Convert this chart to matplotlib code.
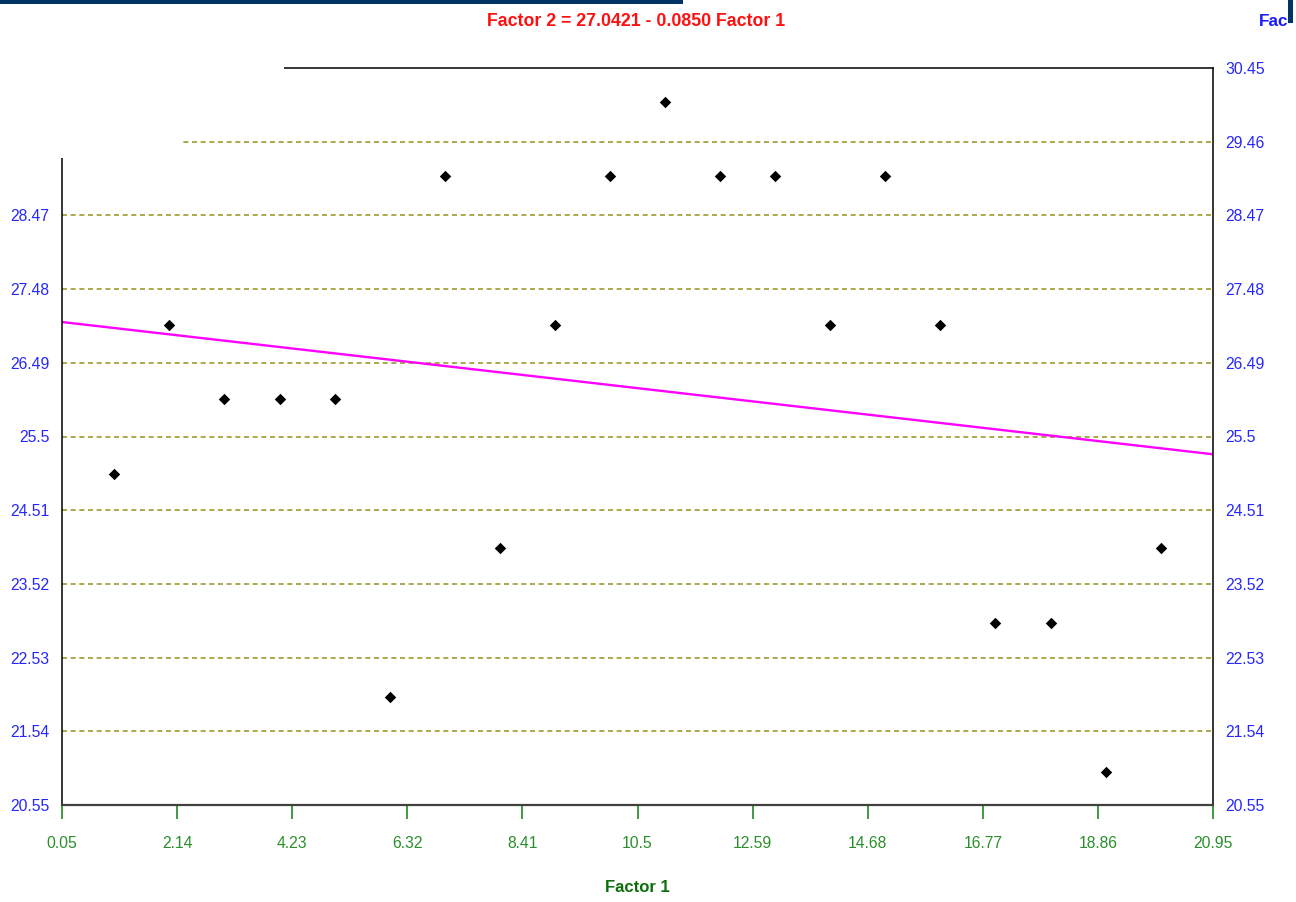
import matplotlib
matplotlib.use("Agg")
import matplotlib.pyplot as plt
from matplotlib.patches import Rectangle
import numpy as np

plt.rcParams['font.family'] = ['Liberation Sans', 'DejaVu Sans']

# ---- data ----
factor1 = [1, 2, 3, 4, 5, 6, 7, 8, 9, 10, 11, 12, 13, 14, 15, 16, 17, 18, 19, 20]
factor2 = [25, 27, 26, 26, 26, 22, 29, 24, 27, 29, 30, 29, 29, 27, 29, 27, 23, 23, 21, 24]
intercept = 27.0421
slope = -0.0850
x_ticks = [0.05, 2.14, 4.23, 6.32, 8.41, 10.5, 12.59, 14.68, 16.77, 18.86, 20.95]
x_tick_labels = ["0.05", "2.14", "4.23", "6.32", "8.41", "10.5", "12.59", "14.68", "16.77", "18.86", "20.95"]
y_ticks = [20.55, 21.54, 22.53, 23.52, 24.51, 25.5, 26.49, 27.48, 28.47, 29.46, 30.45]
y_tick_labels = ["20.55", "21.54", "22.53", "23.52", "24.51", "25.5", "26.49", "27.48", "28.47", "29.46", "30.45"]
title = "Factor 2 = 27.0421 - 0.0850 Factor 1"
x_label = "Factor 1"
y_label = "Factor 2"

W, H = 1296, 902
fig = plt.figure(figsize=(W / 100, H / 100), dpi=100)
fig.patch.set_facecolor('white')

def fx(px):
    return px / W

def fy(py):
    return 1 - py / H

ax_l, ax_r, ax_t, ax_b = 62, 1213, 68, 805
ax = fig.add_axes([fx(ax_l), fy(ax_b), fx(ax_r - ax_l), (ax_b - ax_t) / H])

ax.set_xlim(x_ticks[0], x_ticks[-1])
ax.set_ylim(y_ticks[0], y_ticks[-1])

# gridlines
for yv in y_ticks[1:-1]:
    ax.axhline(yv, color='#9c9c2c', lw=1.2, dashes=(3, 2.2), zorder=1)

# regression line
xr = np.array([x_ticks[0], x_ticks[-1]])
ax.plot(xr, intercept + slope * xr, color='#ff00ff', lw=1.7, zorder=2)

# points
ax.scatter(factor1, factor2, marker='D', s=34, color='black', zorder=3, linewidths=0)

# spines
for s in ['left', 'right', 'top']:
    ax.spines[s].set_color('black')
    ax.spines[s].set_linewidth(1.1)
ax.spines['bottom'].set_color('#404040')
ax.spines['bottom'].set_linewidth(1.6)

ax.set_xticks(x_ticks)
ax.set_xticklabels(x_tick_labels)
ax.set_yticks(y_ticks)
ax.set_yticklabels(y_tick_labels)
ax.tick_params(axis='x', colors='#1f8a1f', length=10, width=1.2, pad=12, labelsize=11.3)
ax.tick_params(axis='x', labelcolor='#2a8f2a')
ax.tick_params(axis='y', length=0, pad=9, labelsize=11.3, labelcolor='#2626ff',
               left=False, right=False, labelleft=True, labelright=True)

ax.set_xlabel(x_label, color='#0a6e0a', fontweight='bold', fontsize=12, labelpad=21)

# white overlay (stepped clipping region at top-left)
fig.add_artist(Rectangle((0, fy(72)), fx(284), 72 / H, transform=fig.transFigure,
                         facecolor='white', edgecolor='none', zorder=10))
fig.add_artist(Rectangle((0, fy(158)), fx(180), 158 / H, transform=fig.transFigure,
                         facecolor='white', edgecolor='none', zorder=10))

# title
fig.text(fx(636), fy(22), title, color='#ff1010', fontweight='bold', fontsize=12.8,
         ha='center', va='center', zorder=11)
# right-side clipped axis title
fig.text(fx(1259), fy(22), y_label[:3], color='#1a1aff', fontweight='bold', fontsize=12.3,
         ha='left', va='center', zorder=11)

# navy decorations
fig.add_artist(Rectangle((0, fy(4)), fx(683), 4 / H, transform=fig.transFigure,
                         facecolor='#003366', edgecolor='none', zorder=12))
fig.add_artist(Rectangle((fx(1288), fy(23)), fx(5), 23 / H, transform=fig.transFigure,
                         facecolor='#003366', edgecolor='none', zorder=12))

fig.savefig('out.png', dpi=100, facecolor='white')
